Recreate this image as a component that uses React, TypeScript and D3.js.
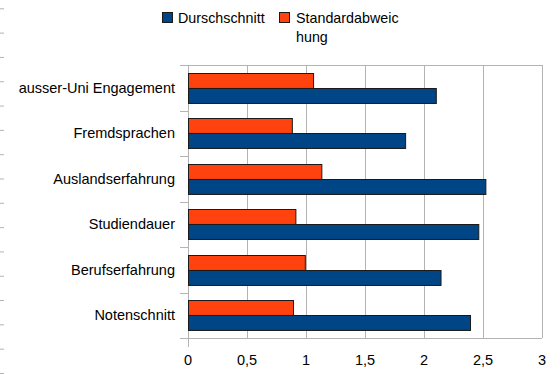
import React from 'react';
import * as d3 from 'd3';

// Werte
const categories = [
  'ausser-Uni Engagement',
  'Fremdsprachen',
  'Auslandserfahrung',
  'Studiendauer',
  'Berufserfahrung',
  'Notenschnitt',
];
const durchschnitt = [2.1, 1.84, 2.52, 2.46, 2.14, 2.39];
const standardabweichung = [1.06, 0.88, 1.13, 0.91, 0.99, 0.89];
const xTicks = [0, 0.5, 1, 1.5, 2, 2.5, 3];
const seriesKeys = ['std', 'mean'];

const BLUE = '#004586';
const ORANGE = '#ff420e';
const GRID = '#b3b3b3';
const FONT = '"Liberation Sans", Arial, sans-serif';

export default function App() {
  const width = 560;
  const height = 374;
  const margin = { top: 65, right: 18, bottom: 36, left: 188 };

  const x = d3
    .scaleLinear()
    .domain([0, 3])
    .range([margin.left, width - margin.right]);

  const y = d3
    .scaleBand()
    .domain(categories)
    .range([margin.top, height - margin.bottom])
    .padding(0);

  const inner = d3
    .scaleBand()
    .domain(seriesKeys)
    .range([0, y.bandwidth()])
    .paddingInner(0)
    .paddingOuter(0.52);

  // die kleinen Striche am linken Rand
  const edge = d3.scaleLinear().domain([0, 15]).range([8.3, 373]);

  const bottom = height - margin.bottom;

  return (
    <svg
      width={width}
      height={height}
      style={{ position: 'absolute', left: 0, top: 0, background: '#fff' }}
      fontFamily={FONT}
    >
      {d3.range(16).map((i) => (
        <line
          key={'e' + i}
          x1={0}
          x2={4}
          y1={edge(i) + 0.5}
          y2={edge(i) + 0.5}
          stroke={GRID}
        />
      ))}

      {/* Gitternetz */}
      {xTicks.map((t) => (
        <line
          key={'g' + t}
          x1={Math.round(x(t)) + 0.5}
          x2={Math.round(x(t)) + 0.5}
          y1={margin.top}
          y2={t === 0 ? bottom + 9 : bottom}
          stroke={GRID}
        />
      ))}
      <line
        x1={margin.left - 8}
        x2={x(3)}
        y1={margin.top + 0.5}
        y2={margin.top + 0.5}
        stroke={GRID}
      />
      <line
        x1={margin.left - 8}
        x2={x(3)}
        y1={bottom + 0.5}
        y2={bottom + 0.5}
        stroke={GRID}
      />
      {categories.map((c) => (
        <line
          key={'t' + c}
          x1={margin.left - 8}
          x2={margin.left}
          y1={Math.round(y(c)!) + 0.5}
          y2={Math.round(y(c)!) + 0.5}
          stroke={GRID}
        />
      ))}

      {/* Balken */}
      {categories.map((c, i) => (
        <g key={'b' + c}>
          <rect
            x={x(0) + 0.5}
            y={Math.round(y(c)! + inner('std')!) + 0.5}
            width={x(standardabweichung[i]) - x(0)}
            height={inner.bandwidth()}
            fill={ORANGE}
            stroke="#1a1a1a"
          />
          <rect
            x={x(0) + 0.5}
            y={Math.round(y(c)! + inner('mean')!) + 0.5}
            width={x(durchschnitt[i]) - x(0)}
            height={inner.bandwidth()}
            fill={BLUE}
            stroke="#1a1a1a"
          />
        </g>
      ))}

      {/* Beschriftungen */}
      {categories.map((c) => (
        <text
          key={'l' + c}
          x={margin.left - 13}
          y={y(c)! + y.bandwidth() / 2 + 5}
          textAnchor="end"
          fontSize={14.5}
          fill="#000"
        >
          {c}
        </text>
      ))}
      {xTicks.map((t) => (
        <text
          key={'x' + t}
          x={x(t)}
          y={bottom + 27}
          textAnchor="middle"
          fontSize={14.5}
          fill="#000"
        >
          {String(t).replace('.', ',')}
        </text>
      ))}

      {/* Legende */}
      <rect x={162.5} y={12.5} width={10} height={10} fill={BLUE} stroke="#1a1a1a" />
      <text x={178} y={23.3} fontSize={14.3} fill="#000">
        Durschschnitt
      </text>
      <rect x={279.5} y={12.5} width={10} height={10} fill={ORANGE} stroke="#1a1a1a" />
      <text x={296} y={23.3} fontSize={14.3} fill="#000">
        Standardabweic
      </text>
      <text x={296} y={41.7} fontSize={14.3} fill="#000">
        hung
      </text>
    </svg>
  );
}
